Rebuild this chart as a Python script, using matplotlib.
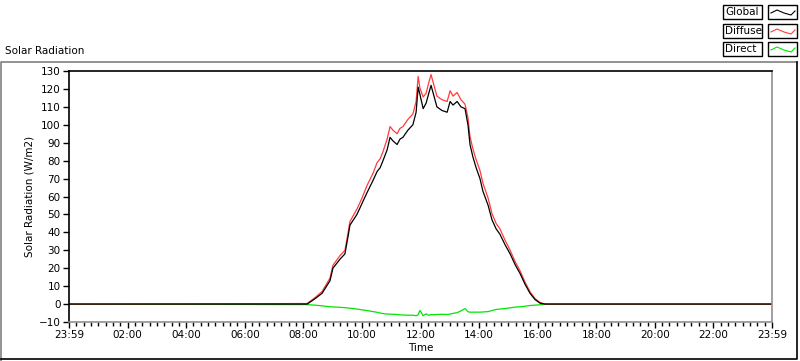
import numpy as np
import matplotlib
matplotlib.use('Agg')
import matplotlib.pyplot as plt
from matplotlib.lines import Line2D
from matplotlib.patches import Rectangle
from matplotlib.ticker import MultipleLocator

# time of day in hours
hours = [0.0, 8.13, 8.40, 8.64, 8.91, 9.01, 9.25, 9.42, 9.53, 9.59, 9.83, 10.0, 10.17,
         10.38, 10.52, 10.62, 10.72, 10.86, 10.96, 11.06, 11.20, 11.30, 11.40, 11.57,
         11.74, 11.85, 11.92, 11.98, 12.09, 12.19, 12.29, 12.36, 12.46, 12.56, 12.73,
         12.91, 13.01, 13.11, 13.25, 13.38, 13.52, 13.62, 13.69, 13.79, 13.90, 14.03,
         14.13, 14.31, 14.44, 14.58, 14.71, 14.89, 15.06, 15.23, 15.40, 15.57, 15.74,
         15.91, 16.08, 16.25, 24.0]

global_rad = [0, 0, 3, 6, 13, 20, 25, 28, 38, 44, 50, 56, 62,
              69, 74, 76, 80, 86, 93, 91, 89, 92, 93, 97,
              100, 107, 121, 117, 109, 112, 118, 122, 116, 110, 108,
              107, 113, 111, 113, 110, 109, 100, 89, 82, 76, 70,
              63, 55, 47, 42, 39, 33, 28, 22, 17, 11, 6,
              2.5, 0.5, 0, 0]

diffuse_rad = [0, 0.3, 3.6, 7, 14.5, 21.6, 27, 30, 40, 46, 53, 59, 66,
               73, 79, 81, 85, 92, 99, 97, 95, 98, 99, 103,
               106, 113, 127, 120.5, 115.5, 117.5, 124, 128, 122, 116, 114,
               113, 119, 116, 118, 114, 111.5, 104, 93.5, 86.5, 80.5, 74.5,
               67.5, 59, 50.5, 45, 42, 35.5, 30, 23.7, 18.5, 12.2, 6.8,
               3.1, 0.9, 0, 0]

direct_rad = [0, -0.3, -0.6, -1.0, -1.5, -1.6, -1.8, -2.0, -2.2, -2.3, -2.8, -3.2, -3.6,
              -4.2, -4.6, -5.0, -5.3, -5.6, -5.6, -5.7, -5.8, -6.0, -6.1, -6.2,
              -6.2, -6.5, -6.0, -3.5, -6.5, -5.5, -6.3, -5.8, -6.0, -5.8, -5.7,
              -5.8, -5.6, -5.2, -4.8, -3.8, -2.5, -4.3, -4.5, -4.5, -4.5, -4.5,
              -4.4, -4.2, -3.6, -3.0, -2.8, -2.5, -2.1, -1.7, -1.5, -1.2, -0.8,
              -0.6, -0.4, 0, 0]

tick_hours = list(range(0, 25, 2))
tick_labels = ['23:59', '02:00', '04:00', '06:00', '08:00', '10:00', '12:00',
               '14:00', '16:00', '18:00', '20:00', '22:00', '23:59']

series_names = ['Global', 'Diffuse', 'Direct']
series_colors = ['black', '#ff3b3b', '#00e600']

plt.rcParams['font.family'] = ['DejaVu Sans']
fig = plt.figure(figsize=(8, 3.61), dpi=100)
ax = fig.add_axes([69 / 800, 1 - 322 / 361, (772 - 69) / 800, (322 - 71) / 361])

ax.plot(hours, direct_rad, color=series_colors[2], lw=0.9)
ax.plot(hours, diffuse_rad, color=series_colors[1], lw=0.9)
ax.plot(hours, global_rad, color=series_colors[0], lw=0.9)

ax.set_xlim(0, 24)
ax.set_ylim(-10, 130)
ax.set_xticks(tick_hours)
ax.set_xticklabels(tick_labels)
ax.xaxis.set_minor_locator(MultipleLocator(0.25))
ax.set_yticks(range(-10, 131, 10))
ax.tick_params(axis='both', which='major', direction='out', length=4, width=1,
               labelsize=7.5, colors='black', pad=2)
ax.tick_params(axis='x', which='minor', direction='out', length=3, width=1)

ax.spines['left'].set_color('black')
ax.spines['top'].set_color('black')
ax.spines['right'].set_color('#909090')
ax.spines['bottom'].set_color('#909090')
for s in ax.spines.values():
    s.set_linewidth(1.2)

ax.set_xlabel('Time', fontsize=7.5, labelpad=2)
ax.set_ylabel('Solar Radiation (W/m2)', fontsize=7.5, labelpad=3)

# outer frame: gray left/top, black right/bottom
top_f = 1 - 62 / 361
fig.add_artist(Line2D([1 / 800, 1 / 800, 797 / 800], [0, top_f, top_f],
                      transform=fig.transFigure, color='#808080', lw=1.2))
fig.add_artist(Line2D([797 / 800, 797 / 800, 1 / 800], [top_f, 2 / 361, 2 / 361],
                      transform=fig.transFigure, color='black', lw=1.2))
fig.text(5 / 800, 1 - 51 / 361, 'Solar Radiation', fontsize=7.5, va='center', ha='left')

# legend boxes
row_y = [12, 31, 49]
for name, col, yy in zip(series_names, series_colors, row_y):
    yf = 1 - yy / 361
    fig.add_artist(Rectangle((723 / 800, yf - 7 / 361), 39 / 800, 14 / 361,
                             transform=fig.transFigure, fill=False, edgecolor='black', lw=1))
    fig.text(725 / 800, yf, name, fontsize=7.5, va='center', ha='left')
    fig.add_artist(Rectangle((768 / 800, yf - 7 / 361), 29 / 800, 14 / 361,
                             transform=fig.transFigure, fill=False, edgecolor='black', lw=1))
    zx = np.array([771, 777, 784, 791, 795]) / 800
    zy = yf + np.array([-1, 2, -1, -3, 1]) / 361
    fig.add_artist(Line2D(zx, zy, transform=fig.transFigure, color=col, lw=0.8))

fig.savefig('out.png', dpi=100)
